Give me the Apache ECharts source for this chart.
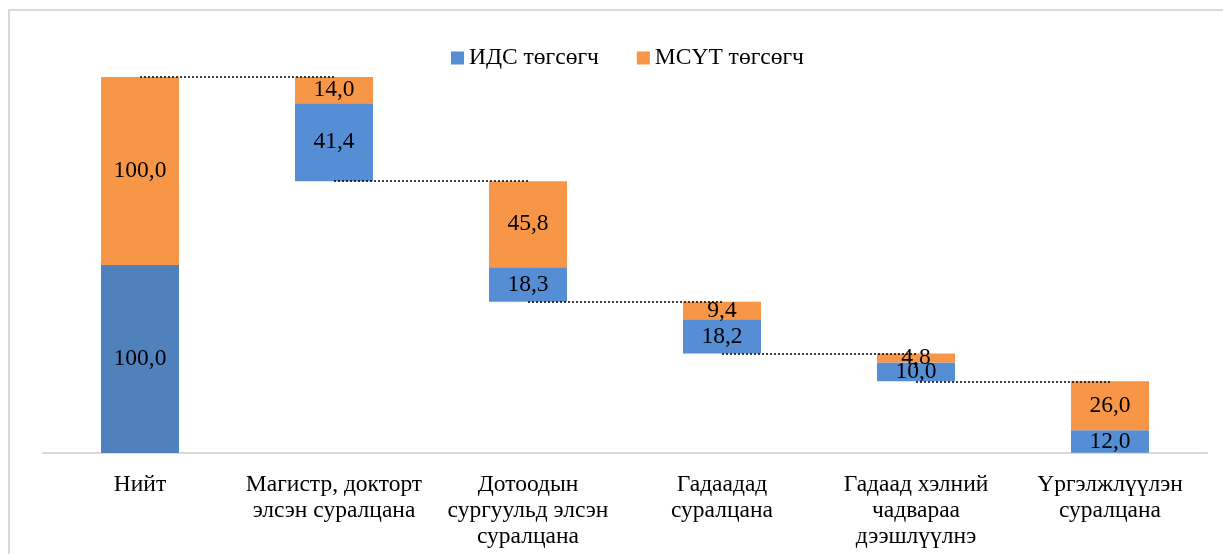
<!DOCTYPE html>
<html>
<head>
<meta charset="utf-8">
<script src="https://cdn.jsdelivr.net/npm/echarts@6/dist/echarts.min.js"></script>
<style>
  html, body { margin: 0; padding: 0; background: #fff; }
  #chart { width: 1223px; height: 554px; }
</style>
</head>
<body>
<div id="chart"></div>
<script>
const categories = [
  "Нийт",
  "Магистр, докторт\nэлсэн суралцана",
  "Дотоодын\nсургуульд элсэн\nсуралцана",
  "Гадаадад\nсуралцана",
  "Гадаад хэлний\nчадвараа\nдээшлүүлнэ",
  "Үргэлжлүүлэн\nсуралцана",
];
const idsValues = [100.0, 41.4, 18.3, 18.2, 10.0, 12.0];
const msutValues = [100.0, 14.0, 45.8, 9.4, 4.8, 26.0];

// waterfall: each step starts where the previous one ended
const tops = [];
const bases = [];
let level = idsValues[0] + msutValues[0];
for (let i = 0; i < categories.length; i++) {
  if (i === 0) {
    tops.push(level);
    bases.push(0);
  } else {
    tops.push(level);
    level = level - idsValues[i] - msutValues[i];
    bases.push(Math.max(level, 0));
  }
}

const connectors = [];
for (let i = 0; i < categories.length - 1; i++) {
  connectors.push([
    { coord: [i, tops[i + 1]] },
    { coord: [i + 1, tops[i + 1]] },
  ]);
}

const fmt = (p) => p.value.toFixed(1).replace(".", ",");
const font = "'Liberation Serif', 'Times New Roman', serif";

const chart = echarts.init(document.getElementById("chart"));
const option = {
  animation: false,
  textStyle: { fontFamily: font },
  graphic: [
    {
      type: "rect",
      shape: { x: 9, y: 10, width: 1240, height: 600 },
      style: { fill: "none", stroke: "#d9d9d9", lineWidth: 2 },
      silent: true,
    },
  ],
  legend: {
    data: ["ИДС төгсөгч", "МСҮТ төгсөгч"],
    top: 41,
    left: 446,
    icon: "rect",
    itemWidth: 13,
    itemHeight: 13,
    itemGap: 38,
    textStyle: { color: "#000", fontSize: 23.5, fontFamily: font },
  },
  grid: {
    left: 43,
    right: 16,
    top: 77,
    bottom: 101,
  },
  xAxis: {
    type: "category",
    data: categories,
    axisTick: { show: false },
    axisLine: { lineStyle: { color: "#d9d9d9", width: 2 } },
    axisLabel: {
      color: "#000",
      fontSize: 23.5,
      lineHeight: 26,
      margin: 19,
      interval: 0,
      fontFamily: font,
    },
  },
  yAxis: {
    type: "value",
    min: 0,
    max: 200,
    show: false,
  },
  series: [
    {
      name: "base",
      type: "bar",
      stack: "w",
      barWidth: 78,
      itemStyle: { color: "transparent" },
      silent: true,
      data: bases,
      markLine: {
        silent: true,
        symbol: ["none", "none"],
        label: { show: false },
        lineStyle: { color: "#000", type: [2, 2], width: 1.5 },
        data: connectors,
      },
    },
    {
      name: "ИДС төгсөгч",
      type: "bar",
      stack: "w",
      barWidth: 78,
      itemStyle: { color: "#558ed5" },
      label: {
        show: true,
        position: "inside",
        color: "#000",
        fontSize: 23.5,
        fontFamily: font,
        formatter: fmt,
      },
      data: idsValues.map((v, i) =>
        i === 0 ? { value: v, itemStyle: { color: "#4f81bd" } } : v
      ),
    },
    {
      name: "МСҮТ төгсөгч",
      type: "bar",
      stack: "w",
      barWidth: 78,
      itemStyle: { color: "#f79646" },
      label: {
        show: true,
        position: "inside",
        color: "#000",
        fontSize: 23.5,
        fontFamily: font,
        formatter: fmt,
      },
      data: msutValues,
    },
  ],
};
chart.setOption(option);
</script>
</body>
</html>
